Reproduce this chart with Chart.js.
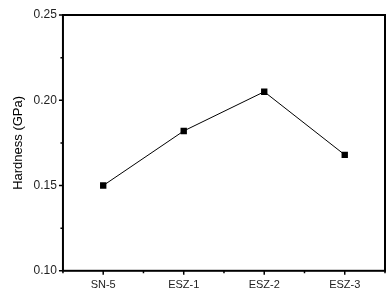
<!DOCTYPE html>
<html>
<head>
<meta charset="utf-8">
<script src="https://cdn.jsdelivr.net/npm/chart.js@4/dist/chart.umd.min.js"></script>
<style>
  html, body { margin: 0; padding: 0; background: #fff; }
  #wrap { width: 392px; height: 301px; }
</style>
</head>
<body>
<div id="wrap"><canvas id="chart"></canvas></div>
<script>
// --- data ---
const categories = ["SN-5", "ESZ-1", "ESZ-2", "ESZ-3"];
const hardness = [0.150, 0.182, 0.205, 0.168];
const yTicks = [0.10, 0.15, 0.20, 0.25];
const yMinorTicks = [0.125, 0.175, 0.225];

// frame + ticks drawn from the scales
const frameTicks = {
    id: "frameTicks",
    afterDraw(chart) {
        const ctx = chart.ctx;
        const a = chart.chartArea;
        const xs = chart.scales.x, ys = chart.scales.y;
        ctx.save();
        ctx.strokeStyle = "#000";
        ctx.lineWidth = 2;
        ctx.strokeRect(a.left, a.top, a.right - a.left, a.bottom - a.top);

        ctx.lineWidth = 1.5;
        ctx.beginPath();
        // y major / minor
        yTicks.forEach(v => {
            const y = ys.getPixelForValue(v);
            ctx.moveTo(a.left - 4, y); ctx.lineTo(a.left, y);
        });
        yMinorTicks.forEach(v => {
            const y = ys.getPixelForValue(v);
            ctx.moveTo(a.left - 2.5, y); ctx.lineTo(a.left, y);
        });
        // x major at categories, minor at boundaries
        categories.forEach((c, i) => {
            const x = xs.getPixelForValue(i);
            ctx.moveTo(x, a.bottom); ctx.lineTo(x, a.bottom + 4);
        });
        for (let i = 0; i <= categories.length; i++) {
            const x = xs.getPixelForValue(i - 0.5);
            ctx.moveTo(x, a.bottom); ctx.lineTo(x, a.bottom + 2.5);
        }
        ctx.stroke();
        ctx.restore();
    }
};

new Chart(document.getElementById("chart"), {
    type: "line",
    data: {
        labels: categories,
        datasets: [{
            data: hardness,
            borderColor: "#000",
            borderWidth: 1,
            backgroundColor: "#000",
            pointStyle: "rect",
            pointRadius: 4.5,
            pointBorderWidth: 0,
            tension: 0
        }]
    },
    options: {
        responsive: true,
        maintainAspectRatio: false,
        animation: false,
        layout: { padding: { top: 15, right: 7, bottom: 1, left: 11 } },
        plugins: { legend: { display: false }, tooltip: { enabled: false } },
        scales: {
            x: {
                offset: true,
                grid: { display: false, drawTicks: false },
                border: { display: false },
                ticks: { color: "#222", font: { family: "Liberation Sans", size: 11 }, padding: 8 }
            },
            y: {
                min: 0.10,
                max: 0.25,
                afterBuildTicks: s => { s.ticks = yTicks.map(v => ({ value: v })); },
                grid: { display: false, drawTicks: false },
                border: { display: false },
                ticks: {
                    color: "#222",
                    font: { family: "Liberation Sans", size: 12 },
                    padding: 6,
                    callback: v => Number(v).toFixed(2)
                },
                title: {
                    display: true,
                    text: "Hardness (GPa)",
                    color: "#000",
                    font: { family: "Liberation Sans", size: 13 },
                    padding: { top: 0, bottom: 1 }
                }
            }
        }
    },
    plugins: [frameTicks]
});
</script>
</body>
</html>
